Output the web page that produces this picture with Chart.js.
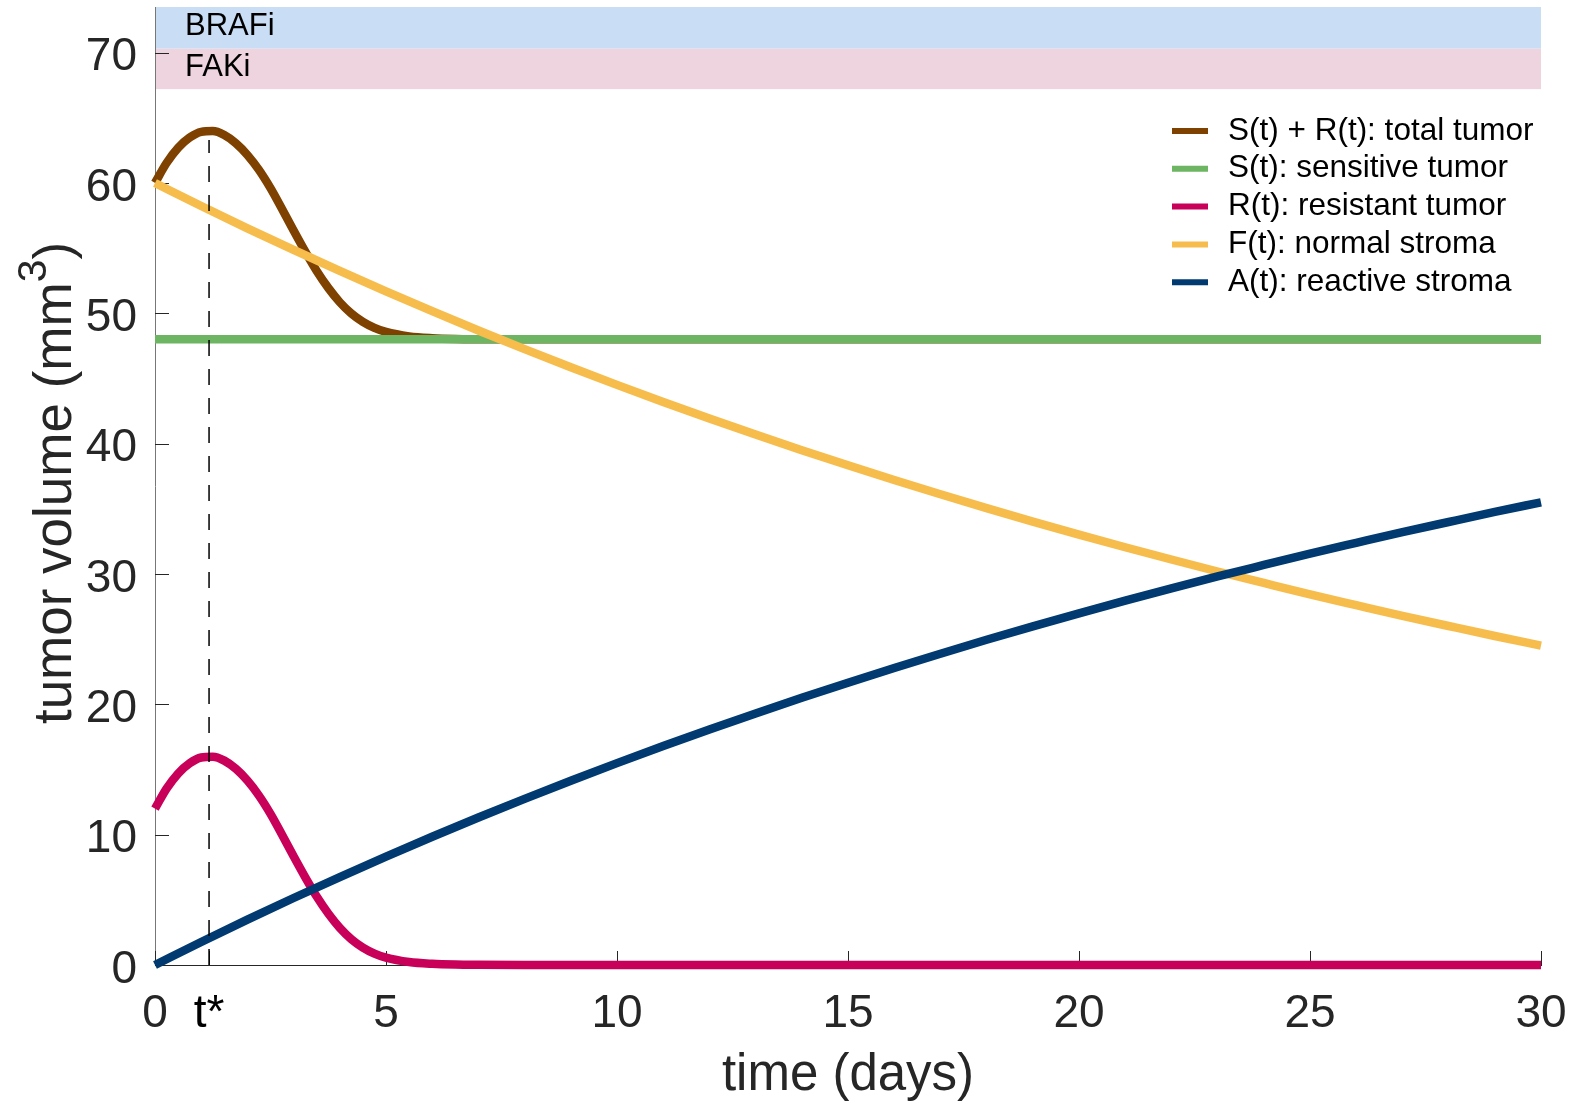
<!DOCTYPE html>
<html>
<head>
<meta charset="utf-8">
<script src="https://cdn.jsdelivr.net/npm/chart.js@4.4.1/dist/chart.umd.min.js"></script>
<style>
  html, body { margin: 0; padding: 0; background: #fff; }
  #wrap { width: 1577px; height: 1105px; }
</style>
</head>
<body>
<div id="wrap"><canvas id="chart"></canvas></div>
<script>
// time grid for the tumor curves (fine near the peak)
const tumorDays = [0, 0.25, 0.5, 0.75, 1, 1.25, 1.5, 1.75, 2, 2.25, 2.5, 2.75, 3, 3.25, 3.5, 3.75,
  4, 4.25, 4.5, 4.75, 5, 5.5, 6, 6.5, 7, 8, 10, 15, 20, 25, 30];
const totalTumor = [60.0, 61.53, 62.69, 63.48, 63.92, 63.98, 63.68, 63.05, 62.15, 61.0, 59.6, 58.0, 56.35, 54.75, 53.25, 51.95,
  50.85, 49.98, 49.34, 48.88, 48.57, 48.23, 48.09, 48.03, 48.01, 48, 48, 48, 48, 48, 48];
const resistantTumor = [12.0, 13.53, 14.69, 15.48, 15.92, 15.98, 15.68, 15.05, 14.15, 13.0, 11.6, 10.0, 8.35, 6.75, 5.25, 3.95,
  2.85, 1.98, 1.34, 0.88, 0.57, 0.23, 0.09, 0.03, 0.01, 0, 0, 0, 0, 0, 0];

const sensitiveDays = [0, 30];
const sensitiveTumor = [48, 48];

const stromaDays = [0, 1, 2, 3, 4, 5, 6, 7, 8, 9, 10, 11, 12, 13, 14, 15, 16, 17, 18, 19, 20,
  21, 22, 23, 24, 25, 26, 27, 28, 29, 30];
const normalStroma = [60.0, 58.23, 56.52, 54.86, 53.25, 51.68, 50.16, 48.68, 47.25, 45.86, 44.51, 43.20, 41.93, 40.70, 39.50, 38.34,
  37.21, 36.12, 35.05, 34.02, 33.02, 32.05, 31.11, 30.19, 29.31, 28.44, 27.61, 26.79, 26.01, 25.24, 24.50];
const reactiveStroma = [0, 1.77, 3.48, 5.14, 6.75, 8.32, 9.84, 11.32, 12.75, 14.14, 15.49, 16.80, 18.07, 19.30, 20.50, 21.66,
  22.79, 23.88, 24.95, 25.98, 26.98, 27.95, 28.89, 29.81, 30.69, 31.56, 32.39, 33.21, 33.99, 34.76, 35.50];

const tStar = 1.17;
const tStarLine = [0, 63.3];

const xTickValues = [0, tStar, 5, 10, 15, 20, 25, 30];
const yTickValues = [0, 10, 20, 30, 40, 50, 60, 70];

const bandNames = ["BRAFi", "FAKi"];
const bandBottom = [70.3, 67.2];
const bandTop = [73.5, 70.3];
const bandColors = ["rgb(201,222,244)", "rgb(237,212,223)"];

const seriesLabels = ["S(t) + R(t): total tumor", "S(t): sensitive tumor", "R(t): resistant tumor",
  "F(t): normal stroma", "A(t): reactive stroma"];
const seriesColors = ["#7e4100", "#6db562", "#c8005a", "#f6bd4d", "#003a70"];

const FONT = "'Liberation Sans', Arial, Helvetica, sans-serif";

function toPoints(xs, ys) {
  return xs.map((x, i) => ({ x: x, y: ys[i] }));
}

function curve(label, days, values, color, order) {
  return {
    label: label,
    data: toPoints(days, values),
    borderColor: color,
    backgroundColor: color,
    borderWidth: 8.5,
    pointRadius: 0,
    cubicInterpolationMode: "monotone",
    borderJoinStyle: "round",
    clip: false,
    order: order
  };
}

const overlay = {
  id: "overlay",
  beforeDatasetsDraw(chart) {
    const ctx = chart.ctx;
    const a = chart.chartArea;
    const x = chart.scales.x;
    const y = chart.scales.y;
    ctx.save();
    bandNames.forEach(function (name, i) {
      const top = y.getPixelForValue(bandTop[i]);
      const bot = y.getPixelForValue(bandBottom[i]);
      ctx.fillStyle = bandColors[i];
      ctx.fillRect(a.left + 1, top, a.right - a.left - 1, bot - top);
      ctx.fillStyle = "#000";
      ctx.font = "31px " + FONT;
      ctx.textBaseline = "middle";
      ctx.textAlign = "left";
      ctx.fillText(name, a.left + 30, (top + bot) / 2 - 1);
    });
    // inward ticks
    ctx.strokeStyle = "#262626";
    ctx.lineWidth = 1;
    ctx.beginPath();
    yTickValues.forEach(function (v) {
      const py = Math.round(y.getPixelForValue(v)) + 0.5;
      ctx.moveTo(a.left, py);
      ctx.lineTo(a.left + 14, py);
    });
    xTickValues.forEach(function (v) {
      const px = Math.round(x.getPixelForValue(v)) + 0.5;
      ctx.moveTo(px, a.bottom);
      ctx.lineTo(px, a.bottom - 14);
    });
    ctx.stroke();
    ctx.restore();
  },
  afterDraw(chart) {
    const ctx = chart.ctx;
    const a = chart.chartArea;
    ctx.save();
    // legend
    ctx.font = "31.5px " + FONT;
    ctx.textBaseline = "middle";
    ctx.textAlign = "left";
    seriesLabels.forEach(function (label, i) {
      const yy = 131 + i * 37.8;
      ctx.strokeStyle = seriesColors[i];
      ctx.lineWidth = 6;
      ctx.beginPath();
      ctx.moveTo(a.right - 369, yy);
      ctx.lineTo(a.right - 333, yy);
      ctx.stroke();
      ctx.fillStyle = "#000";
      ctx.fillText(label, a.right - 313, yy);
    });
    // x title
    ctx.fillStyle = "#262626";
    ctx.font = "51px " + FONT;
    ctx.textAlign = "center";
    ctx.textBaseline = "alphabetic";
    ctx.fillText("time (days)", (a.left + a.right) / 2, 1090);
    // y title with superscript
    ctx.translate(71, 483);
    ctx.rotate(-Math.PI / 2);
    ctx.textAlign = "left";
    const main = "tumor volume (mm";
    ctx.font = "53px " + FONT;
    const w1 = ctx.measureText(main).width;
    const w4 = ctx.measureText(")").width;
    ctx.font = "41px " + FONT;
    const w3 = ctx.measureText("3").width;
    const start = -(w1 + w3 + w4) / 2;
    ctx.font = "53px " + FONT;
    ctx.fillText(main, start, 0);
    ctx.fillText(")", start + w1 + w3, 0);
    ctx.font = "41px " + FONT;
    ctx.fillText("3", start + w1, -25);
    ctx.restore();
  }
};

const datasets = [
  {
    label: "t*",
    data: toPoints([tStar, tStar], tStarLine),
    borderColor: "#000",
    borderWidth: 1.5,
    borderDash: [16, 13],
    pointRadius: 0,
    clip: false,
    order: 0
  },
  curve(seriesLabels[0], tumorDays, totalTumor, seriesColors[0], 5),
  curve(seriesLabels[1], sensitiveDays, sensitiveTumor, seriesColors[1], 4),
  curve(seriesLabels[2], tumorDays, resistantTumor, seriesColors[2], 3),
  curve(seriesLabels[3], stromaDays, normalStroma, seriesColors[3], 2),
  curve(seriesLabels[4], stromaDays, reactiveStroma, seriesColors[4], 1)
];

new Chart(document.getElementById("chart"), {
  type: "line",
  data: { datasets: datasets },
  options: {
    responsive: true,
    maintainAspectRatio: false,
    animation: false,
    layout: { padding: { top: 7, right: 36, left: 0, bottom: 0 } },
    plugins: {
      legend: { display: false },
      tooltip: { enabled: false }
    },
    scales: {
      x: {
        type: "linear",
        min: 0,
        max: 30,
        grid: { display: false, drawTicks: false },
        border: { display: true, color: "#262626", width: 1 },
        afterBuildTicks: function (scale) {
          scale.ticks = xTickValues.map(v => ({ value: v }));
        },
        afterFit: function (scale) {
          scale.height = 140;
          scale.paddingLeft = 0;
          scale.paddingRight = 0;
        },
        ticks: {
          autoSkip: false,
          maxRotation: 0,
          padding: 22,
          font: { family: FONT, size: 46 },
          color: function (c) {
            return c.tick && c.tick.value === tStar ? "#000" : "#262626";
          },
          callback: function (v) {
            return v === tStar ? "t*" : v;
          }
        }
      },
      y: {
        min: 0,
        max: 73.5,
        grid: { display: false, drawTicks: false },
        border: { display: true, color: "#777", width: 1 },
        afterBuildTicks: function (scale) {
          scale.ticks = yTickValues.map(v => ({ value: v }));
        },
        afterFit: function (scale) {
          scale.width = 155;
          scale.paddingTop = 0;
          scale.paddingBottom = 0;
        },
        ticks: {
          padding: 18,
          labelOffset: 5,
          font: { family: FONT, size: 46 },
          color: "#262626"
        }
      }
    }
  },
  plugins: [overlay]
});
</script>
</body>
</html>
